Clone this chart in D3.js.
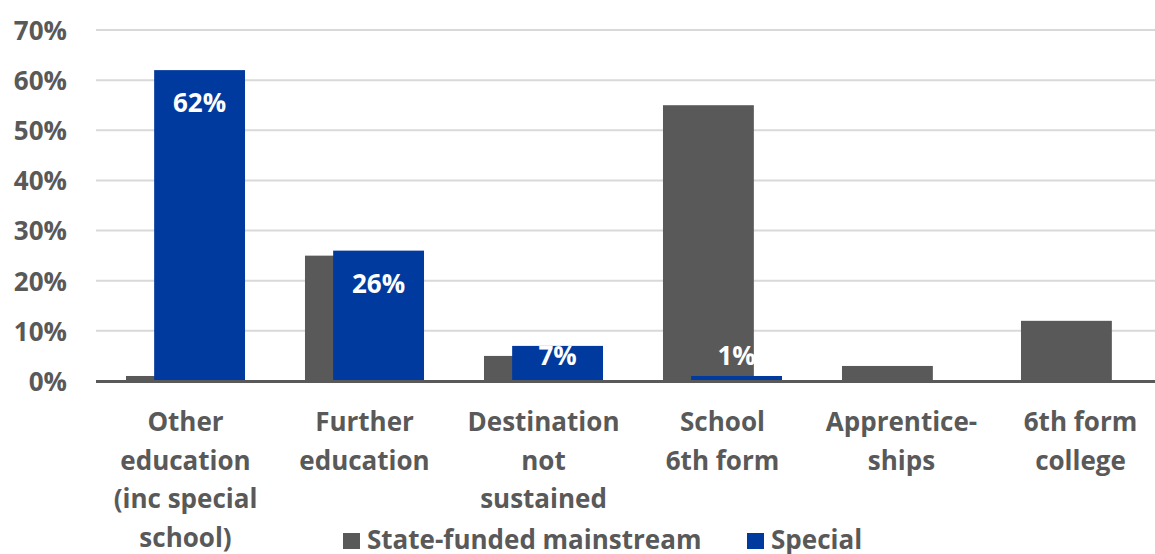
<!DOCTYPE html>
<html>

<head>
	<meta charset="utf-8">
	<style type="text/css">
		body {
			margin: 0;
			background-color: #ffffff;
		}

		svg text {
			font-family: "Open Sans", sans-serif;
			font-weight: bold;
		}
	</style>
	<title>Destinations</title>
</head>

<body>
	<div id="chart"></div>
	<script src="https://cdn.jsdelivr.net/npm/d3@7"></script>
	<script>
		// Destination categories, one entry per wrapped label line
		var categoryLines = [
			["Other", "education", "(inc special", "school)"],
			["Further", "education"],
			["Destination", "not", "sustained"],
			["School", "6th form"],
			["Apprentice-", "ships"],
			["6th form", "college"]
		];
		var categories = categoryLines.map(function(l) { return l.join(" "); });

		var seriesNames = ["State-funded mainstream", "Special"];
		var mainstream = [0.01, 0.25, 0.05, 0.55, 0.03, 0.12];
		var special = [0.62, 0.26, 0.07, 0.01, null, null];
		var yTicks = [0, 0.1, 0.2, 0.3, 0.4, 0.5, 0.6, 0.7];

		const width = 1155,
			height = 554,
			grey = "#595959",
			blue = "#003a9e",
			fontSize = 26,
			overlap = 0.69;

		const svg = d3.select("#chart").append("svg")
			.attr("width", width)
			.attr("height", height);

		var x = d3.scaleBand()
			.domain(categories)
			.range([96, 1170])
			.paddingInner(0.335)
			.paddingOuter(0.1675);

		var y = d3.scaleLinear()
			.domain([0, 0.7])
			.range([381, 30]);

		// Overlapping bars: second series shifted by a fraction of the bar width
		var barW = x.bandwidth() / (2 - overlap);
		var shift = barW * (1 - overlap);

		// Gridlines
		svg.append("g")
			.selectAll("line")
			.data(yTicks.slice(1))
			.enter().append("line")
			.attr("x1", 96)
			.attr("x2", width)
			.attr("y1", function(d) { return y(d); })
			.attr("y2", function(d) { return y(d); })
			.style("stroke", "#d9d9d9")
			.style("stroke-width", 2);

		// Y axis labels
		var yAxis = svg.append("g")
			.attr("transform", "translate(67,0)")
			.call(d3.axisLeft(y).tickValues(yTicks).tickFormat(d3.format(".0%")).tickSize(0).tickPadding(0));
		yAxis.select(".domain").remove();
		yAxis.selectAll("text")
			.style("font-size", fontSize + "px")
			.style("fill", grey)
			.attr("dy", "0.36em");

		// Bars
		var rows = categories.map(function(c, i) {
			return { cat: c, m: mainstream[i], s: special[i] };
		});

		svg.append("g").selectAll("rect")
			.data(rows)
			.enter().append("rect")
			.attr("x", function(d) { return x(d.cat); })
			.attr("y", function(d) { return y(d.m); })
			.attr("width", barW)
			.attr("height", function(d) { return y(0) - y(d.m); })
			.style("fill", grey);

		var specialRows = rows.filter(function(d) { return d.s != null; });

		svg.append("g").selectAll("rect")
			.data(specialRows)
			.enter().append("rect")
			.attr("x", function(d) { return x(d.cat) + shift; })
			.attr("y", function(d) { return y(d.s); })
			.attr("width", barW)
			.attr("height", function(d) { return y(0) - y(d.s); })
			.style("fill", blue);

		// Category axis line
		svg.append("line")
			.attr("x1", 96)
			.attr("x2", width)
			.attr("y1", y(0) + 0.5)
			.attr("y2", y(0) + 0.5)
			.style("stroke", grey)
			.style("stroke-width", 3);

		// Value labels for the special series (kept above the axis for short bars)
		svg.append("g").selectAll("text")
			.data(specialRows)
			.enter().append("text")
			.attr("x", function(d) { return x(d.cat) + shift + barW / 2; })
			.attr("y", function(d) { return Math.min(y(d.s) + 33, y(0) - 25); })
			.attr("dy", "0.36em")
			.attr("text-anchor", "middle")
			.style("font-size", fontSize + "px")
			.style("fill", "#ffffff")
			.text(function(d) { return d3.format(".0%")(d.s); });

		// Category labels
		var catLabels = svg.append("g").selectAll("text")
			.data(categoryLines)
			.enter().append("text")
			.attr("text-anchor", "middle")
			.style("font-size", fontSize + "px")
			.style("fill", grey)
			.attr("transform", function(d, i) {
				return "translate(" + (x(categories[i]) + x.bandwidth() / 2) + ",422)";
			});
		catLabels.selectAll("tspan")
			.data(function(d) { return d; })
			.enter().append("tspan")
			.attr("x", 0)
			.attr("y", function(d, i) { return i * 38.5; })
			.attr("dy", "0.36em")
			.text(function(d) { return d; });

		// Legend
		var legendX = [343, 747];
		var legend = svg.append("g").selectAll("g")
			.data(seriesNames)
			.enter().append("g")
			.attr("transform", function(d, i) { return "translate(" + legendX[i] + ",533)"; });
		legend.append("rect")
			.attr("width", 17)
			.attr("height", 16)
			.style("fill", function(d, i) { return i === 0 ? grey : blue; });
		legend.append("text")
			.attr("x", 24)
			.attr("y", 7)
			.attr("dy", "0.36em")
			.style("font-size", fontSize + "px")
			.style("fill", grey)
			.text(function(d) { return d; });
	</script>
</body>

</html>
